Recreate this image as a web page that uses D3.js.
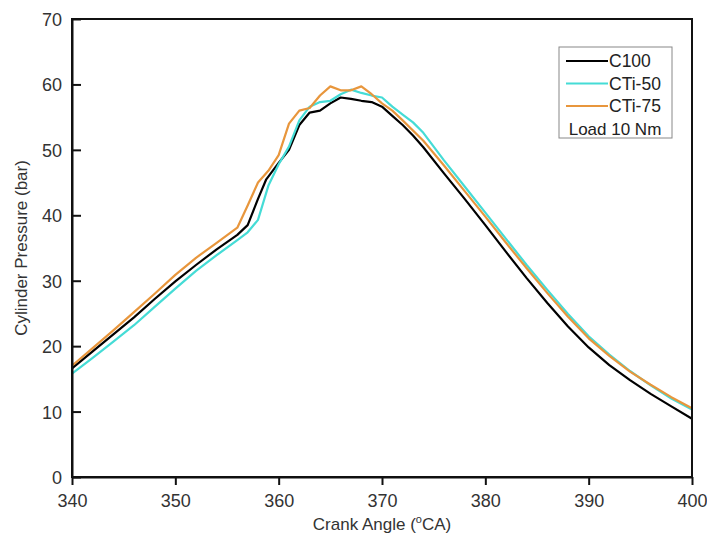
<!DOCTYPE html>
<html>
<head>
<meta charset="utf-8">
<script src="https://cdn.jsdelivr.net/npm/d3@7"></script>
<style>
  body { margin: 0; background: #fff; }
  svg { font-family: "Liberation Sans", Arial, sans-serif; }
</style>
</head>
<body>
<svg width="707" height="538"></svg>
<script>
// crank angle (deg CA) and cylinder pressure (bar)
var c100Angle = [340, 342, 344, 346, 348, 350, 352, 354, 356, 357, 358, 358.8, 360, 361, 362, 363, 364, 365, 366, 367, 368, 369, 370, 371, 372, 373, 374, 376, 378, 380, 382, 384, 386, 388, 390, 392, 394, 396, 398, 400];
var c100Bar   = [16.6, 19.2, 21.8, 24.4, 27.2, 29.9, 32.4, 34.8, 37.0, 38.5, 42.5, 45.5, 48.0, 50.0, 53.8, 55.7, 56.0, 57.1, 58.0, 57.8, 57.5, 57.3, 56.6, 55.2, 53.8, 52.2, 50.4, 46.4, 42.5, 38.5, 34.4, 30.4, 26.6, 23.0, 19.8, 17.1, 14.8, 12.7, 10.8, 8.9];

var cti50Angle = [340, 342, 344, 346, 348, 350, 352, 354, 356, 357, 358, 359, 360, 361, 362, 363, 364, 365, 366, 367, 368, 369, 370, 371, 372, 373, 374, 376, 378, 380, 382, 384, 386, 388, 390, 392, 394, 396, 398, 400];
var cti50Bar   = [15.8, 18.2, 20.7, 23.2, 26.0, 28.8, 31.5, 33.9, 36.2, 37.4, 39.3, 44.5, 47.8, 50.5, 54.5, 56.6, 57.3, 57.5, 58.5, 59.2, 58.7, 58.3, 58.0, 56.6, 55.4, 54.2, 52.6, 48.4, 44.4, 40.4, 36.4, 32.4, 28.6, 24.9, 21.5, 18.7, 16.2, 14.0, 12.0, 10.3];

var cti75Angle = [340, 342, 344, 346, 348, 350, 352, 354, 356, 357, 358, 359, 360, 361, 362, 363, 364, 365, 366, 367, 368, 369, 370, 371, 372, 374, 376, 378, 380, 382, 384, 386, 388, 390, 392, 394, 396, 398, 400];
var cti75Bar   = [17.0, 19.7, 22.4, 25.2, 28.0, 30.9, 33.5, 35.8, 38.1, 41.5, 45.0, 46.8, 49.2, 54.0, 56.0, 56.4, 58.3, 59.7, 59.1, 59.1, 59.7, 58.5, 57.1, 56.0, 54.5, 51.4, 47.6, 43.7, 39.8, 35.8, 31.9, 28.1, 24.5, 21.2, 18.5, 16.1, 14.1, 12.2, 10.5];

var seriesNames = ["C100", "CTi-50", "CTi-75"];
var seriesColors = ["#000000", "#45dcd6", "#e8963c"];
var xTicks = [340, 350, 360, 370, 380, 390, 400];
var yTicks = [0, 10, 20, 30, 40, 50, 60, 70];

var svg = d3.select("svg"),
    width = +svg.attr("width"),
    height = +svg.attr("height");

var margin = {top: 19, right: 15, bottom: 61, left: 72};

var x = d3.scaleLinear().domain([340, 400]).range([margin.left, width - margin.right]);
var y = d3.scaleLinear().domain([0, 70]).range([height - margin.bottom, margin.top]);

var series = [
  {name: seriesNames[0], color: seriesColors[0], values: d3.zip(c100Angle, c100Bar)},
  {name: seriesNames[1], color: seriesColors[1], values: d3.zip(cti50Angle, cti50Bar)},
  {name: seriesNames[2], color: seriesColors[2], values: d3.zip(cti75Angle, cti75Bar)}
];

var line = d3.line()
    .x(function(d) { return x(d[0]); })
    .y(function(d) { return y(d[1]); });

// curves, drawn under the frame
svg.append("g").selectAll("path")
  .data(series)
  .enter().append("path")
    .attr("d", function(d) { return line(d.values); })
    .attr("fill", "none")
    .attr("stroke", function(d) { return d.color; })
    .attr("stroke-width", 2.2)
    .attr("stroke-linejoin", "round");

// frame
svg.append("rect")
    .attr("x", x(340)).attr("y", y(70))
    .attr("width", x(400) - x(340)).attr("height", y(0) - y(70))
    .attr("fill", "none")
    .attr("stroke", "#111")
    .attr("stroke-width", 2);

var xAxis = svg.append("g")
    .attr("transform", "translate(0," + y(0) + ")")
    .call(d3.axisBottom(x).tickValues(xTicks).tickSize(8).tickPadding(9).tickSizeOuter(0));

var yAxis = svg.append("g")
    .attr("transform", "translate(" + x(340) + ",0)")
    .call(d3.axisLeft(y).tickValues(yTicks).tickSize(-9).tickPadding(10).tickSizeOuter(0));

[xAxis, yAxis].forEach(function(a) {
  a.select(".domain").attr("stroke", "#111").attr("stroke-width", 2);
  a.selectAll(".tick line").attr("stroke", "#111").attr("stroke-width", 2);
  a.selectAll(".tick text").attr("fill", "#333").style("font-size", "18px");
});
yAxis.selectAll(".tick text").attr("dy", "0.36em");

// axis titles
var xt = svg.append("text")
    .attr("x", (x(340) + x(400)) / 2)
    .attr("y", 530)
    .attr("text-anchor", "middle")
    .attr("fill", "#333")
    .style("font-size", "17px");
xt.append("tspan").text("Crank Angle (");
xt.append("tspan").attr("dy", -7).style("font-size", "11px").text("o");
xt.append("tspan").attr("dy", 7).text("CA)");

svg.append("text")
    .attr("transform", "translate(27," + ((y(0) + y(70)) / 2) + ") rotate(-90)")
    .attr("text-anchor", "middle")
    .attr("fill", "#333")
    .style("font-size", "17px")
    .text("Cylinder Pressure (bar)");

// legend
var legend = svg.append("g").attr("transform", "translate(559,47)");
legend.append("rect")
    .attr("width", 113).attr("height", 91)
    .attr("fill", "#fff")
    .attr("stroke", "#888")
    .attr("stroke-width", 1);

var item = legend.selectAll(".item")
  .data(series)
  .enter().append("g")
    .attr("class", "item")
    .attr("transform", function(d, i) { return "translate(0," + (14 + i * 22.5) + ")"; });

item.append("line")
    .attr("x1", 7).attr("x2", 49)
    .attr("stroke", function(d) { return d.color; })
    .attr("stroke-width", 2.2);

item.append("text")
    .attr("x", 50).attr("dy", "0.36em")
    .attr("fill", "#222")
    .style("font-size", "17.5px")
    .text(function(d) { return d.name; });

legend.append("text")
    .attr("x", 56).attr("y", 81.5)
    .attr("dy", "0.36em")
    .attr("text-anchor", "middle")
    .attr("fill", "#222")
    .style("font-size", "17px")
    .text("Load 10 Nm");
</script>
</body>
</html>
